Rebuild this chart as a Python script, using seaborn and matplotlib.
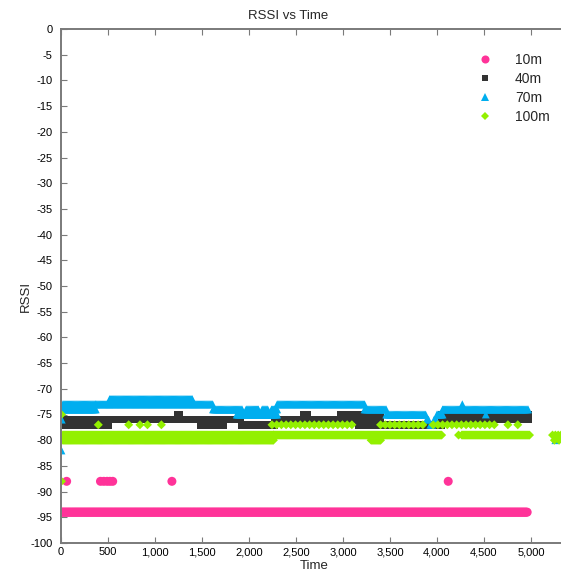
import numpy as np
import pandas as pd
import matplotlib
matplotlib.use("Agg")
import matplotlib.pyplot as plt
from matplotlib.lines import Line2D
from matplotlib.ticker import FuncFormatter, MultipleLocator
import seaborn as sns

# Logger interval (seconds) used inside each constant-RSSI run
SAMPLE_STEP = 10
SPARSE_STEP = 50

# ---- 10 m ----------------------------------------------------------------
# runs of constant RSSI: (start s, end s, dBm)
rssi_10m_runs = [(0, 4960, -94)]
rssi_10m_pts_t = [60, 420, 455, 490, 520, 550, 1180, 4120]
rssi_10m_pts_v = [-88, -88, -88, -88, -88, -88, -88, -88]

# ---- 40 m ----------------------------------------------------------------
rssi_40m_runs = [
    (50, 500, -76), (50, 500, -77),
    (500, 1490, -76),
    (1490, 1700, -76), (1490, 1730, -77),
    (1740, 1910, -76),
    (1920, 2270, -77),
    (2270, 3170, -76),
    (3170, 3400, -75), (3170, 3400, -76), (3170, 3400, -77),
    (3400, 4040, -77),
    (4050, 4970, -75), (4050, 4970, -76),
]
rssi_40m_pts_t = [1245, 1255, 2580, 2600, 2620, 2980, 3000, 3080, 3100, 3120, 3140]
rssi_40m_pts_v = [-75, -75, -75, -75, -75, -75, -75, -75, -75, -75, -75]

# ---- 70 m ----------------------------------------------------------------
rssi_70m_runs = [
    (20, 372, -73), (20, 372, -74),
    (372, 517, -73),
    (517, 1404, -72), (517, 1404, -73),
    (1404, 1617, -73),
    (1617, 1930, -74), (1970, 2100, -74), (2140, 2200, -74), (2240, 2300, -74),
    (1870, 2300, -75),
    (2300, 3230, -73),
    (3230, 3460, -74),
    (3460, 3880, -75),
    (4000, 4060, -75),
    (4060, 4970, -74),
]
rssi_70m_pts_t = [5, 8, 3890, 3910, 3930, 3950, 3970, 3990, 4270, 4520, 5260]
rssi_70m_pts_v = [-82, -76, -76, -76, -77, -77, -76, -76, -73, -75, -80]

# ---- 100 m ---------------------------------------------------------------
rssi_100m_runs = [
    (20, 2260, -79), (20, 2260, -80),
    (2260, 4050, -79),
    (3300, 3400, -80),
    (4265, 4990, -79),
]
rssi_100m_sparse_runs = [(2245, 3120, -77), (3400, 3850, -77), (3960, 4650, -77)]
rssi_100m_pts_t = [5, 5, 397, 720, 840, 920, 1068, 4230, 4755, 4860,
                   5230, 5260, 5290, 5320, 5250, 5300]
rssi_100m_pts_v = [-75, -88, -77, -77, -77, -77, -77, -79, -77, -77,
                   -79, -79, -79, -79, -80, -80]

distances = ["10m", "40m", "70m", "100m"]
colors = {"10m": "#FF3399", "40m": "#333333", "70m": "#00AEEF", "100m": "#93F000"}
markers = {"10m": "o", "40m": "s", "70m": "^", "100m": "D"}
sizes = {"10m": 42, "40m": 30, "70m": 32, "100m": 21}


def expand(runs, step):
    t, v = [], []
    for start, end, level in runs:
        times = np.arange(start, end + 1, step)
        t.extend(times.tolist())
        v.extend([level] * len(times))
    return t, v


def series(name, runs, pts_t, pts_v, sparse_runs=()):
    t, v = expand(runs, SAMPLE_STEP)
    ts, vs = expand(sparse_runs, SPARSE_STEP)
    t = t + ts + list(pts_t)
    v = v + vs + list(pts_v)
    return pd.DataFrame({"Time": t, "RSSI": v, "Distance": name})


df = pd.concat([
    series("10m", rssi_10m_runs, rssi_10m_pts_t, rssi_10m_pts_v),
    series("40m", rssi_40m_runs, rssi_40m_pts_t, rssi_40m_pts_v),
    series("70m", rssi_70m_runs, rssi_70m_pts_t, rssi_70m_pts_v),
    series("100m", rssi_100m_runs, rssi_100m_pts_t, rssi_100m_pts_v,
           rssi_100m_sparse_runs),
], ignore_index=True)

sns.set_theme(style="ticks")
plt.rcParams["font.family"] = ["Liberation Sans", "DejaVu Sans"]
plt.rcParams["axes.unicode_minus"] = False

fig = plt.figure(figsize=(5.61, 5.76), dpi=100)
ax = fig.add_axes([61 / 561, 1 - 543 / 576, 500 / 561, 514 / 576])

sns.scatterplot(data=df, x="Time", y="RSSI", hue="Distance", style="Distance",
                size="Distance", hue_order=distances, style_order=distances,
                size_order=distances, palette=colors, markers=markers,
                sizes=sizes, linewidth=0, legend=False, ax=ax)

ax.set_xlim(0, 5320)
ax.set_ylim(-100, 0)
ax.xaxis.set_major_locator(MultipleLocator(500))
ax.yaxis.set_major_locator(MultipleLocator(5))
ax.xaxis.set_major_formatter(FuncFormatter(lambda x, p: f"{x:,.0f}"))
ax.yaxis.set_major_formatter(FuncFormatter(lambda y, p: f"{y:.0f}"))

spine_col = "#7a7a7a"
for side in ["left", "bottom", "top"]:
    ax.spines[side].set_color(spine_col)
    ax.spines[side].set_linewidth(1.4)
ax.spines["right"].set_visible(False)
ax.tick_params(axis="both", direction="in", length=4, width=0.8,
               color=spine_col, labelsize=8, labelcolor="black")
ax.tick_params(axis="x", top=True, pad=3)
ax.tick_params(axis="y", pad=6)

ax.set_xlabel("Time", fontsize=9.5)
ax.set_ylabel("RSSI", fontsize=9.5)
ax.xaxis.set_label_coords(0.507, -0.033)
ax.yaxis.set_label_coords(-0.058, 0.479)

fig.text(288 / 561, 1 - 16 / 576, "RSSI vs Time", ha="center", va="center",
         fontsize=9.5)

handle_sizes = {"10m": 5.8, "40m": 4.3, "70m": 5.2, "100m": 4.1}
handles = [Line2D([], [], linestyle="", marker=markers[d], color=colors[d],
                  markeredgewidth=0, markersize=handle_sizes[d])
           for d in distances]
fig.legend(handles, distances, loc="upper left",
           bbox_to_anchor=(478 / 561, 1 - 53 / 576), frameon=False,
           fontsize=10, handlelength=1.0, handletextpad=1.66,
           borderpad=0, borderaxespad=0, labelspacing=0.35)

fig.savefig("out.png", dpi=100)
